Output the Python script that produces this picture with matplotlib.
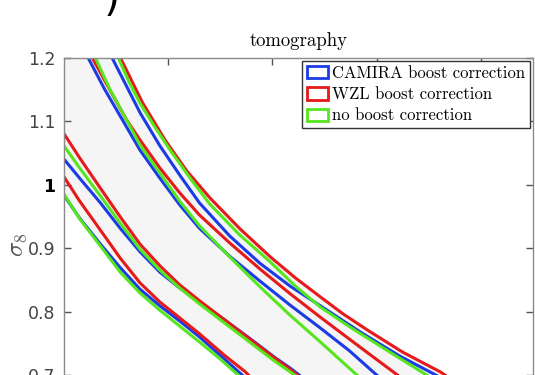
import numpy as np
import matplotlib
matplotlib.use("Agg")
import matplotlib.pyplot as plt
from matplotlib.patches import Patch

plt.rcParams["mathtext.fontset"] = "cm"

# contour lines: (Omega_m, sigma_8)
# upper branch, outer (95%) contour
camira_up95_x = [0.146, 0.160, 0.173, 0.192, 0.211, 0.230, 0.259, 0.288, 0.317, 0.346, 0.384, 0.422, 0.451, 0.466]
camira_up95_y = [1.200, 1.155, 1.113, 1.061, 1.015, 0.971, 0.919, 0.876, 0.840, 0.809, 0.768, 0.730, 0.705, 0.692]
wzl_up95_x = [0.154, 0.175, 0.197, 0.218, 0.240, 0.269, 0.298, 0.322, 0.346, 0.368, 0.391, 0.425, 0.461, 0.470]
wzl_up95_y = [1.200, 1.130, 1.070, 1.021, 0.979, 0.930, 0.886, 0.853, 0.823, 0.796, 0.771, 0.736, 0.705, 0.695]
noboost_up95_x = [0.152, 0.162, 0.173, 0.187, 0.202, 0.221, 0.240, 0.269, 0.298, 0.322, 0.346, 0.374, 0.403, 0.442, 0.456]
noboost_up95_y = [1.200, 1.163, 1.128, 1.091, 1.054, 1.010, 0.969, 0.920, 0.878, 0.840, 0.807, 0.776, 0.746, 0.706, 0.692]

# upper branch, inner (68%) contour
camira_up68_x = [0.123, 0.139, 0.156, 0.173, 0.192, 0.211, 0.230, 0.259, 0.288, 0.317, 0.346, 0.374, 0.400, 0.413]
camira_up68_y = [1.200, 1.150, 1.102, 1.054, 1.010, 0.968, 0.931, 0.887, 0.848, 0.810, 0.774, 0.738, 0.700, 0.684]
wzl_up68_x = [0.127, 0.144, 0.160, 0.173, 0.192, 0.211, 0.230, 0.259, 0.288, 0.317, 0.346, 0.384, 0.420, 0.432]
wzl_up68_y = [1.200, 1.149, 1.102, 1.070, 1.026, 0.987, 0.952, 0.908, 0.867, 0.828, 0.791, 0.744, 0.700, 0.686]
noboost_up68_x = [0.130, 0.144, 0.159, 0.173, 0.192, 0.211, 0.230, 0.259, 0.288, 0.317, 0.346, 0.381, 0.394]
noboost_up68_y = [1.200, 1.150, 1.105, 1.062, 1.018, 0.974, 0.935, 0.886, 0.839, 0.794, 0.752, 0.700, 0.681]

# lower branch, inner (68%) contour
camira_lo68_x = [0.100, 0.115, 0.135, 0.154, 0.173, 0.192, 0.211, 0.230, 0.254, 0.278, 0.302, 0.317, 0.328]
camira_lo68_y = [1.040, 1.010, 0.971, 0.931, 0.894, 0.862, 0.837, 0.815, 0.787, 0.758, 0.728, 0.711, 0.697]
wzl_lo68_x = [0.100, 0.115, 0.135, 0.154, 0.173, 0.192, 0.211, 0.230, 0.254, 0.278, 0.302, 0.317, 0.326]
wzl_lo68_y = [1.080, 1.042, 0.994, 0.949, 0.906, 0.872, 0.842, 0.817, 0.787, 0.757, 0.727, 0.709, 0.697]
noboost_lo68_x = [0.100, 0.115, 0.135, 0.154, 0.173, 0.192, 0.211, 0.230, 0.254, 0.278, 0.302, 0.317, 0.326]
noboost_lo68_y = [1.061, 1.026, 0.982, 0.939, 0.898, 0.865, 0.837, 0.812, 0.782, 0.752, 0.722, 0.705, 0.694]

# lower branch, outer (95%) contour
camira_lo95_x = [0.100, 0.115, 0.135, 0.154, 0.173, 0.192, 0.211, 0.230, 0.250, 0.271, 0.277]
camira_lo95_y = [0.983, 0.947, 0.906, 0.869, 0.835, 0.809, 0.785, 0.760, 0.731, 0.700, 0.692]
wzl_lo95_x = [0.100, 0.115, 0.135, 0.154, 0.173, 0.192, 0.211, 0.230, 0.254, 0.274, 0.280]
wzl_lo95_y = [1.012, 0.974, 0.928, 0.884, 0.845, 0.815, 0.790, 0.765, 0.731, 0.705, 0.695]
noboost_lo95_x = [0.100, 0.115, 0.135, 0.154, 0.173, 0.192, 0.211, 0.230, 0.250, 0.267, 0.273]
noboost_lo95_y = [0.985, 0.946, 0.903, 0.862, 0.829, 0.802, 0.777, 0.752, 0.725, 0.700, 0.692]

labels = ["CAMIRA boost correction", "WZL boost correction", "no boost correction"]
colors = ["#1a3be6", "#e61a1a", "#55e61e"]
yticks = [0.7, 0.8, 0.9, 1.0, 1.1, 1.2]
ytick_labels = ["0.7", "0.8", "0.9", "1", "1.1", "1.2"]
xticks = [0.2, 0.3, 0.4, 0.5]

fig = plt.figure(figsize=(5.35, 3.75), dpi=100)
ax = fig.add_axes([0.1196, -0.3387, 0.8766, 1.1853])
ax.set_xlim(0.1, 0.55)
ax.set_ylim(0.5, 1.2)

# light grey band between the two outermost curves
poly_x = [0.1] + wzl_up95_x + [0.6, noboost_lo95_x[-1]] + noboost_lo95_x[::-1]
poly_y = [1.2] + wzl_up95_y + [0.4, 0.4] + noboost_lo95_y[::-1]
ax.fill(poly_x, poly_y, color="#f5f5f5", lw=0, zorder=0)

curves = [
    (camira_up95_x, camira_up95_y, 0), (wzl_up95_x, wzl_up95_y, 1), (noboost_up95_x, noboost_up95_y, 2),
    (camira_up68_x, camira_up68_y, 0), (wzl_up68_x, wzl_up68_y, 1), (noboost_up68_x, noboost_up68_y, 2),
    (camira_lo68_x, camira_lo68_y, 0), (wzl_lo68_x, wzl_lo68_y, 1), (noboost_lo68_x, noboost_lo68_y, 2),
    (camira_lo95_x, camira_lo95_y, 0), (wzl_lo95_x, wzl_lo95_y, 1), (noboost_lo95_x, noboost_lo95_y, 2),
]
for cx, cy, ci in curves:
    ax.plot(cx, cy, color=colors[ci], lw=2.2, solid_capstyle="round", solid_joinstyle="round")

for s in ax.spines.values():
    s.set_color("#8a8a8a")
    s.set_linewidth(1.0)
ax.set_yticks(yticks)
ax.set_yticklabels(ytick_labels)
ax.set_xticks(xticks)
ax.tick_params(direction="in", length=5, width=1, color="#555555", top=True, right=True,
               labelsize=12.5, labelcolor="#444444", pad=6)
ax.tick_params(axis="x", labelbottom=False)
ax.get_yticklabels()[3].set_color("black")
ax.get_yticklabels()[3].set_fontweight("bold")

ax.set_title("tomography", fontfamily="cmr10", fontsize=13.5, pad=8)
fig.text(17 / 535, 1 - 245 / 375, r"$\sigma_8$", rotation=90, ha="center", va="center",
         fontsize=18, color="#555555")
fig.text(112 / 535, 1 - 20 / 375, ")", fontsize=30, ha="center", va="bottom", color="black")

handles = [Patch(facecolor="white", edgecolor=c, lw=2) for c in colors]
leg = ax.legend(handles, labels, loc="upper right", bbox_to_anchor=(1, 1), borderaxespad=0.2,
                prop={"family": "cmr10", "size": 12.0}, fancybox=False, framealpha=1,
                edgecolor="#333333", handlelength=1.3, handleheight=0.75, handletextpad=0.2,
                labelspacing=0.35, borderpad=0.3)
leg.get_frame().set_linewidth(1.0)

fig.savefig("out.png", dpi=100)
